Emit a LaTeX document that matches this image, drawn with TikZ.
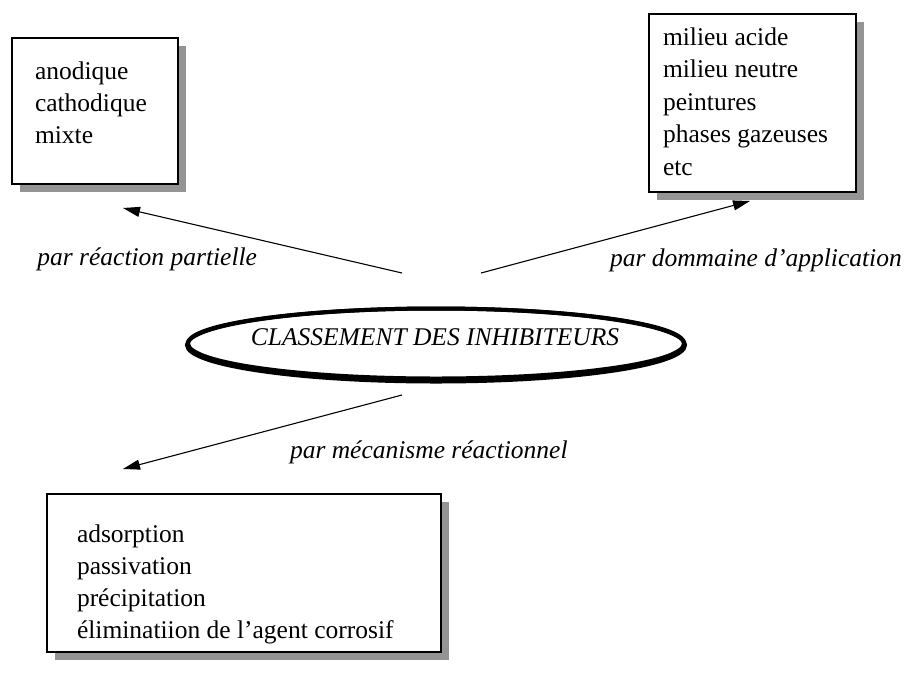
\documentclass[tikz,border=0pt]{standalone}
\usepackage{fontspec}
\setmainfont{Liberation Serif}
\usetikzlibrary{shadows,arrows.meta,shapes.geometric}
\begin{document}
\begin{tikzpicture}[x=1pt,y=-1pt,
  every node/.style={font=\fontsize{25.5}{32}\selectfont, inner sep=0pt, outer sep=0pt},
  box/.style={draw=black, line width=1.2pt, fill=white, rectangle, anchor=north west,
    drop shadow={shadow xshift=8pt, shadow yshift=-8pt, fill=black!42, opacity=1}},
  item/.style={anchor=base west},
  lbl/.style={font=\fontsize{25.5}{32}\selectfont\itshape},
  arr/.style={line width=1.1pt, -{Triangle[length=17pt,width=10pt]}},
  oval/.style={ellipse, draw=black, line width=4pt},
]
\useasboundingbox (0,0) rectangle (909,673);

% boxes
\node[box, minimum width=166pt, minimum height=146pt] (b1) at (12,38) {};
\node[box, minimum width=207pt, minimum height=178pt] (b2) at (649,14) {};
\node[box, minimum width=394pt, minimum height=158pt] (b3) at (47,494) {};

% box texts
\foreach \t [count=\i] in {anodique, cathodique, mixte}
  \node[item] (b1l\i) at (35,{79+(\i-1)*32}) {\t};
\foreach \t [count=\i] in {milieu acide, milieu neutre, peintures, phases gazeuses, etc}
  \node[item] (b2l\i) at (663,{45+(\i-1)*32.5}) {\t};
\foreach \t [count=\i] in {adsorption, passivation, précipitation, éliminatiion de l’agent corrosif}
  \node[item] (b3l\i) at (77,{542+(\i-1)*32}) {\t};

% central ellipse (thicker lower rim)
\node[oval, minimum width=498pt, minimum height=73pt] (clb) at (436,345) {};
\node[oval, minimum width=496pt, minimum height=70pt] (cl) at (436,343.5) {};
\node[lbl, anchor=base] (clt) at (435,345) {CLASSEMENT DES INHIBITEURS};

% arrows
\coordinate (a1s) at (402,273);
\coordinate (a1e) at (123,208);
\coordinate (a2s) at (481,273);
\coordinate (a2e) at (750,201);
\coordinate (a3s) at (402,395);
\coordinate (a3e) at (123,469);
\draw[arr] (a1s) -- (a1e);
\draw[arr] (a2s) -- (a2e);
\draw[arr] (a3s) -- (a3e);

% labels
\node[lbl, anchor=base east] (l1) at (257,265) {par réaction partielle};
\node[lbl, anchor=base west] (l2) at (610,266) {par dommaine d’application};
\node[lbl, anchor=base west] (l3) at (290,458) {par mécanisme réactionnel};
\end{tikzpicture}
\end{document}
